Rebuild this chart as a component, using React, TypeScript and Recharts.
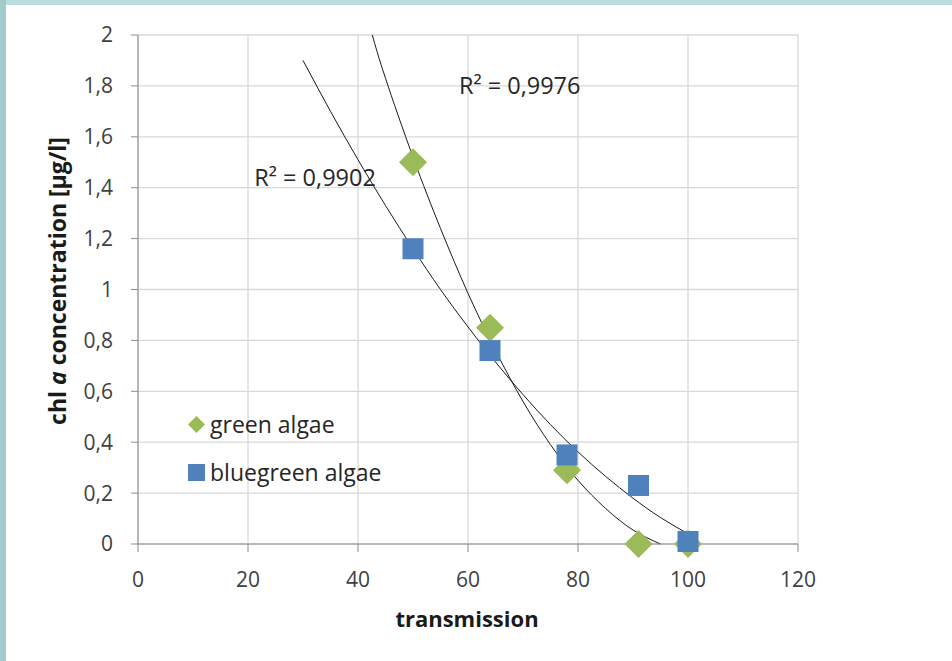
import { ComposedChart, Scatter, Line, XAxis, YAxis, CartesianGrid, Legend, ReferenceDot } from 'recharts'

const X_TICKS = [0, 20, 40, 60, 80, 100, 120]
const Y_TICKS = [0, 0.2, 0.4, 0.6, 0.8, 1, 1.2, 1.4, 1.6, 1.8, 2]

// measured points
const transmission = [50, 64, 78, 91, 100]
const greenAlgae = [1.5, 0.85, 0.29, 0.0, 0.0]
const bluegreenAlgae = [1.16, 0.76, 0.35, 0.23, 0.01]

// trendlines
const greenTrendX = [42.6, 45, 50, 55, 60, 65, 70, 75, 80, 85, 90, 95]
const greenTrendY = [2.0, 1.83, 1.52, 1.24, 0.985, 0.76, 0.56, 0.39, 0.25, 0.14, 0.055, 0]
const blueTrendX = [30, 35, 40, 45, 50, 55, 60, 65, 70, 75, 80, 85, 90, 95, 100]
const blueTrendY = [1.9, 1.7, 1.51, 1.33, 1.16, 1.0, 0.853, 0.715, 0.587, 0.469, 0.362, 0.266, 0.18, 0.104, 0.04]

const SERIES_NAMES = ['green algae', 'bluegreen algae']
const R2_GREEN = 'R² = 0,9976'
const R2_BLUE = 'R² = 0,9902'

const GREEN = '#9BBB59'
const BLUE = '#4F81BD'
const FONT = '"Open Sans", sans-serif'

const zip = (xs: number[], ys: number[]) => xs.map((x, i) => ({ x, y: ys[i] }))

const greenData = zip(transmission, greenAlgae)
const blueData = zip(transmission, bluegreenAlgae)
const greenTrend = zip(greenTrendX, greenTrendY)
const blueTrend = zip(blueTrendX, blueTrendY)

const fmt = (v: number) => String(v).replace('.', ',')

function Diamond({ cx, cy }: any) {
  const r = 14
  return <polygon points={`${cx},${cy - r} ${cx + r},${cy} ${cx},${cy + r} ${cx - r},${cy}`} fill={GREEN} />
}

function Square({ cx, cy }: any) {
  const h = 10.5
  return <rect x={cx - h} y={cy - h} width={h * 2} height={h * 2} fill={BLUE} />
}

function LegendBox({ payload }: any) {
  const items = (payload ?? [])
    .filter((p: any) => p.type !== 'none')
    .sort((a: any, b: any) => SERIES_NAMES.indexOf(a.value) - SERIES_NAMES.indexOf(b.value))
  return (
    <div style={{ fontFamily: FONT, fontSize: 23, color: '#262626' }}>
      {items.map((p: any) => (
        <div key={p.value} style={{ display: 'flex', alignItems: 'center', height: 48, gap: 5 }}>
          <svg width={17} height={17}>
            {p.type === 'diamond'
              ? <polygon points="8.5,0 17,8.5 8.5,17 0,8.5" fill={GREEN} />
              : <rect width={17} height={17} fill={BLUE} />}
          </svg>
          <span>{p.value}</span>
        </div>
      ))}
    </div>
  )
}

export default function App() {
  return (
    <div style={{ position: 'absolute', left: 0, top: 0, width: 952, height: 661, background: '#fff', overflow: 'hidden' }}>
      {/* slide frame */}
      <div style={{ position: 'absolute', left: 0, top: 0, width: 952, height: 5, background: '#BCDDDD' }} />
      <div style={{ position: 'absolute', left: 0, top: 0, width: 6, height: 661, background: '#A2CBCB' }} />

      <ComposedChart width={952} height={661} margin={{ top: 35, right: 154, bottom: 77, left: 0 }}>
        <CartesianGrid stroke="#D9D9D9" strokeWidth={1.3} />
        <XAxis
          type="number"
          dataKey="x"
          domain={[0, 120]}
          ticks={X_TICKS}
          height={40}
          tickSize={8}
          tickMargin={20}
          stroke="#8C8C8C"
          tick={{ fill: '#404040', fontSize: 21, fontFamily: FONT }}
        />
        <YAxis
          type="number"
          dataKey="y"
          domain={[0, 2]}
          ticks={Y_TICKS}
          width={138}
          tickSize={7}
          tickMargin={18}
          tickFormatter={fmt}
          stroke="#8C8C8C"
          tick={{ fill: '#404040', fontSize: 21, fontFamily: FONT }}
        />
        <Scatter name="green algae" data={greenData} shape={<Diamond />} legendType="diamond" isAnimationActive={false} />
        <Scatter name="bluegreen algae" data={blueData} shape={<Square />} legendType="square" isAnimationActive={false} />
        <Line data={greenTrend} dataKey="y" type="natural" stroke="#1a1a1a" strokeWidth={1} dot={false} legendType="none" isAnimationActive={false} />
        <Line data={blueTrend} dataKey="y" type="natural" stroke="#1a1a1a" strokeWidth={1} dot={false} legendType="none" isAnimationActive={false} />
        <ReferenceDot x={69.4} y={1.8} r={0} stroke="none" fill="none"
          label={{ value: R2_GREEN, position: 'center', fill: '#262626', fontSize: 23.5, fontFamily: FONT }} />
        <ReferenceDot x={32.2} y={1.44} r={0} stroke="none" fill="none"
          label={{ value: R2_BLUE, position: 'center', fill: '#262626', fontSize: 23.5, fontFamily: FONT }} />
        <Legend
          layout="vertical"
          align="center"
          verticalAlign="middle"
          content={<LegendBox />}
          wrapperStyle={{ left: 188, top: 400, width: 'auto' }}
        />
      </ComposedChart>

      <div style={{ position: 'absolute', left: 467, top: 618, transform: 'translate(-50%, -50%)', fontFamily: FONT, fontWeight: 700, fontSize: 22, color: '#1a1a1a', whiteSpace: 'nowrap' }}>
        transmission
      </div>
      <div style={{ position: 'absolute', left: 57, top: 281, transform: 'translate(-50%, -50%) rotate(-90deg)', fontFamily: FONT, fontWeight: 700, fontSize: 23, color: '#1a1a1a', whiteSpace: 'nowrap' }}>
        chl <i>a</i> concentration [µg/l]
      </div>
    </div>
  )
}
